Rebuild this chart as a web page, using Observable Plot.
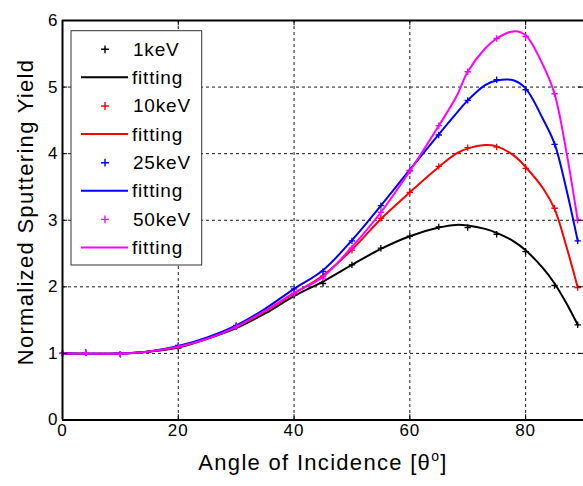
<!DOCTYPE html>
<html>
<head>
<meta charset="utf-8">
<script src="https://cdn.jsdelivr.net/npm/d3@7"></script>
<script src="https://cdn.jsdelivr.net/npm/@observablehq/plot@0.6"></script>
<style>
  html, body { margin: 0; padding: 0; background: #fff; }
  #chart svg { display: block; }
</style>
</head>
<body>
<div id="chart"></div>
<script>
// ---- data ----
const angles = [0, 4, 10, 20, 30, 40, 45, 50, 55, 60, 65, 70, 75, 80, 85, 89];
const y1keV  = [1.00, 1.01, 0.99, 1.08, 1.40, 1.88, 2.05, 2.33, 2.58, 2.76, 2.90, 2.89, 2.79, 2.53, 2.02, 1.43];
const y10keV = [1.00, 1.01, 0.99, 1.10, 1.41, 1.90, 2.16, 2.55, 3.03, 3.42, 3.81, 4.09, 4.10, 3.78, 3.18, 1.99];
const y25keV = [1.00, 1.01, 0.99, 1.12, 1.42, 1.97, 2.23, 2.69, 3.22, 3.75, 4.28, 4.80, 5.11, 4.96, 4.14, 2.69];
const y50keV = [1.00, 1.01, 0.99, 1.10, 1.40, 1.90, 2.13, 2.58, 3.12, 3.74, 4.42, 5.23, 5.73, 5.76, 4.90, 3.00];

const fitAngles = [0, 10, 15, 20, 25, 30, 35, 40, 45, 50, 55, 60, 65, 68, 70, 73, 75, 78, 80, 83, 85, 87, 89];
const fit1keV  = [1.00, 1.00, 1.03, 1.09, 1.22, 1.38, 1.60, 1.86, 2.08, 2.33, 2.57, 2.76, 2.89, 2.93, 2.92, 2.87, 2.81, 2.68, 2.55, 2.28, 2.05, 1.76, 1.43];
const fit10keV = [1.00, 1.00, 1.03, 1.10, 1.23, 1.40, 1.63, 1.90, 2.17, 2.56, 3.02, 3.42, 3.80, 4.00, 4.08, 4.13, 4.11, 3.97, 3.80, 3.48, 3.17, 2.62, 1.99];
const fit25keV = [1.00, 1.00, 1.03, 1.11, 1.24, 1.42, 1.67, 1.97, 2.25, 2.70, 3.22, 3.76, 4.29, 4.60, 4.80, 5.03, 5.10, 5.10, 4.98, 4.52, 4.15, 3.48, 2.69];
const fit50keV = [1.00, 1.00, 1.03, 1.10, 1.22, 1.40, 1.64, 1.91, 2.15, 2.60, 3.12, 3.74, 4.42, 4.85, 5.23, 5.58, 5.73, 5.84, 5.78, 5.33, 4.90, 4.05, 3.00];

const seriesNames = ["1keV", "10keV", "25keV", "50keV"];
const seriesColors = ["#000000", "#ff0000", "#0000ff", "#ff00ff"];
const xTicks = [0, 20, 40, 60, 80];
const yTicks = [0, 1, 2, 3, 4, 5, 6];
const xLabelMain = "Angle of Incidence [θ";
const xLabelSup = "o";
const xLabelEnd = "]";
const yLabel = "Normalized Sputtering Yield";
const fitLabel = "fitting";

// ---- build tables ----
const pointVals = [y1keV, y10keV, y25keV, y50keV];
const fitVals = [fit1keV, fit10keV, fit25keV, fit50keV];
const points = [];
const fits = [];
seriesNames.forEach((s, i) => {
  angles.forEach((a, j) => points.push({series: s, angle: a, value: pointVals[i][j]}));
  fitAngles.forEach((a, j) => fits.push({series: s, angle: a, value: fitVals[i][j]}));
});

const FONT = "'Liberation Sans', Arial, Helvetica, sans-serif";

const dataMarks = [];
seriesNames.forEach((s, i) => {
  dataMarks.push(Plot.dot(points.filter(d => d.series === s), {
    x: "angle", y: "value", symbol: "plus", r: 2.2, stroke: seriesColors[i], strokeWidth: 1.3
  }));
  dataMarks.push(Plot.line(fits.filter(d => d.series === s), {
    x: "angle", y: "value", stroke: seriesColors[i], strokeWidth: 2, curve: "catmull-rom"
  }));
});

const innerX = xTicks.filter(d => d > 0);
const innerY = yTicks.filter(d => d > 0 && d < 6);

const chart = Plot.plot({
  width: 583,
  height: 486,
  marginLeft: 62,
  marginRight: 0,
  marginTop: 20,
  marginBottom: 66.5,
  style: {fontFamily: FONT, background: "#fff"},
  x: {domain: [0, 90]},
  y: {domain: [0, 6]},
  marks: [
    // dotted grid
    Plot.ruleX(innerX, {stroke: "#000", strokeWidth: 1, strokeDasharray: "3,3", strokeOpacity: 0.9}),
    Plot.ruleY(innerY, {stroke: "#000", strokeWidth: 1, strokeDasharray: "3,3", strokeOpacity: 0.9}),
    ...dataMarks,
    // inward ticks
    Plot.ruleY(innerY, {x1: 0, x2: 0.9, stroke: "#000", strokeWidth: 1}),
    Plot.ruleY(innerY, {x1: 89.1, x2: 90, stroke: "#000", strokeWidth: 1}),
    Plot.ruleX(innerX, {y1: 0, y2: 0.08, stroke: "#000", strokeWidth: 1}),
    Plot.ruleX(innerX, {y1: 5.92, y2: 6, stroke: "#000", strokeWidth: 1}),
    // box (right side lies outside the picture)
    Plot.ruleX([0], {stroke: "#000", strokeWidth: 2}),
    Plot.ruleY([0, 6], {stroke: "#000", strokeWidth: 2}),
    Plot.axisX({ticks: xTicks, tickFormat: d3.format("d"), tickSize: 0, tickPadding: 4, label: null, fontSize: 17, fill: "#000"}),
    Plot.axisY({ticks: yTicks, tickFormat: d3.format("d"), tickSize: 0, tickPadding: 4, label: null, fontSize: 17, fill: "#000"})
  ]
});

document.getElementById("chart").appendChild(chart);

const svg = d3.select(chart);
svg.selectAll("g[aria-label='x-axis tick label'] text, g[aria-label='y-axis tick label'] text")
  .style("letter-spacing", "1px");

// axis titles
const xt = svg.append("text")
  .attr("x", 323).attr("y", 470)
  .attr("text-anchor", "middle")
  .style("font-family", FONT).style("font-size", "22px").style("letter-spacing", "1.3px")
  .attr("fill", "#000");
xt.append("tspan").text(xLabelMain);
xt.append("tspan").attr("dy", "-9").style("font-size", "14px").text(xLabelSup);
xt.append("tspan").attr("dy", "9").text(xLabelEnd);

svg.append("text")
  .attr("transform", "translate(33,212) rotate(-90)")
  .attr("text-anchor", "middle")
  .style("font-family", FONT).style("font-size", "22px").style("letter-spacing", "1.3px")
  .attr("fill", "#000")
  .text(yLabel);

// legend
const lg = svg.append("g").attr("text-anchor", "start");
lg.append("rect").attr("x", 71).attr("y", 30.7).attr("width", 130.7).attr("height", 234.3)
  .attr("fill", "#fff").attr("stroke", "#333").attr("stroke-width", 1);
const sym = d3.symbol(d3.symbolPlus, 22);
seriesNames.forEach((s, i) => {
  const b1 = 55.7 + 56.7 * i;
  const b2 = b1 + 28.35;
  lg.append("path").attr("d", sym()).attr("transform", `translate(105,${b1 - 6.4})`)
    .attr("fill", "none").attr("stroke", seriesColors[i]).attr("stroke-width", 1.4);
  lg.append("text").attr("x", 133).attr("y", b1).attr("text-anchor", "start").text(s)
    .style("font-family", FONT).style("font-size", "19px").style("letter-spacing", "0.8px").attr("fill", "#000");
  lg.append("line").attr("x1", 81).attr("x2", 128).attr("y1", b2 - 6.7).attr("y2", b2 - 6.7)
    .attr("stroke", seriesColors[i]).attr("stroke-width", 2);
  lg.append("text").attr("x", 132).attr("y", b2).attr("text-anchor", "start").text(fitLabel)
    .style("font-family", FONT).style("font-size", "19px").style("letter-spacing", "0.8px").attr("fill", "#000");
});
</script>
</body>
</html>
